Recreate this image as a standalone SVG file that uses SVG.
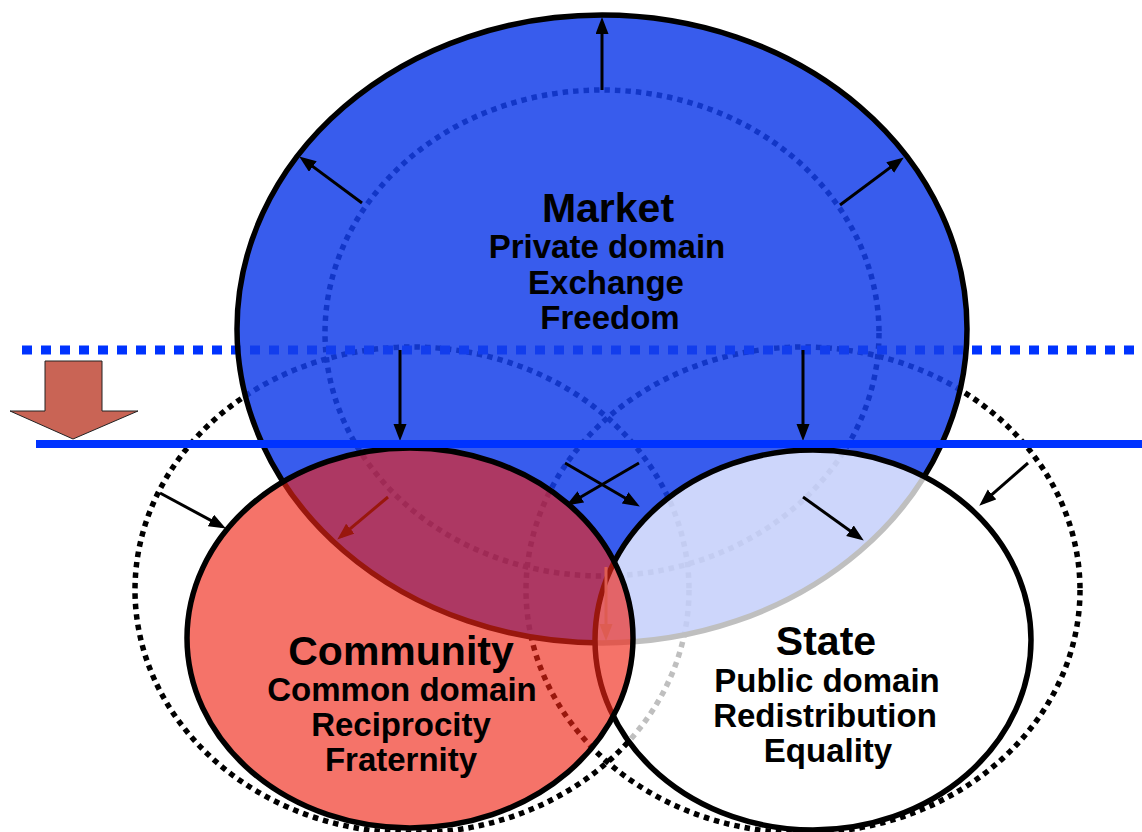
<svg xmlns="http://www.w3.org/2000/svg" width="1142" height="832" viewBox="0 0 1142 832">
<style>
.old{fill:none;stroke:#000;stroke-width:5.5;stroke-dasharray:5.5 5}
.solid{stroke:#000;stroke-width:5.5}
.t{font-family:"Liberation Sans",Arial,sans-serif;font-weight:bold;text-anchor:middle;fill:#000}
.title{font-size:41px}
.sub{font-size:33px}
.arr{stroke:#000;stroke-width:3;fill:none;marker-end:url(#ah)}
.arr-g{stroke:#bfbfbf;stroke-width:3;fill:none;marker-end:url(#ahg)}
</style>
<defs>
<marker id="ah" markerUnits="userSpaceOnUse" markerWidth="18" markerHeight="14" refX="12" refY="6.5" orient="auto">
<path d="M0,0 L17,6.5 L0,13 z" fill="#000"/>
</marker>
<marker id="ahg" markerUnits="userSpaceOnUse" markerWidth="18" markerHeight="14" refX="12" refY="6.5" orient="auto">
<path d="M0,0 L17,6.5 L0,13 z" fill="#bfbfbf"/>
</marker>
</defs>
<rect width="1142" height="832" fill="#fff"/>
<g id="previous-boundaries">
<ellipse class="old" cx="602" cy="333" rx="277" ry="243"/>
<ellipse class="old" cx="412" cy="590" rx="277" ry="243"/>
<ellipse class="old" cx="803" cy="590" rx="277" ry="243"/>
</g>
<g id="previous-line">
<line x1="22" y1="350" x2="1142" y2="350" stroke="#0033ff" stroke-width="9" stroke-dasharray="10 9"/>
</g>
<g id="market">
<ellipse class="solid" cx="602" cy="329" rx="365" ry="314" fill="rgb(21,63,234)" fill-opacity="0.85"/>
<text class="t title" x="608" y="222">Market</text>
<text class="t sub" x="607" y="258">Private domain</text>
<text class="t sub" x="606" y="294">Exchange</text>
<text class="t sub" x="610" y="329">Freedom</text>
</g>
<g id="state">
<ellipse class="solid" cx="813" cy="640" rx="218" ry="190" fill="#fff" fill-opacity="0.75"/>
<text class="t title" x="826" y="655">State</text>
<text class="t sub" x="827" y="692">Public domain</text>
<text class="t sub" x="825" y="727">Redistribution</text>
<text class="t sub" x="828" y="762">Equality</text>
</g>
<g id="connectors">
<line class="arr" x1="602" y1="90" x2="602" y2="22"/>
<line class="arr" x1="362" y1="203" x2="303.2" y2="159.4"/>
<line class="arr" x1="840" y1="205" x2="899.8" y2="160.4"/>
<line class="arr" x1="400" y1="350" x2="400" y2="436"/>
<line class="arr" x1="803" y1="350" x2="803" y2="436"/>
<line class="arr" x1="565" y1="463" x2="635.5" y2="504"/>
<line class="arr" x1="639" y1="463" x2="570.5" y2="503"/>
<line class="arr" x1="803" y1="497" x2="859.7" y2="537.7"/>
<line class="arr" x1="1028" y1="463" x2="983" y2="502.4"/>
<line class="arr" x1="160" y1="493" x2="221.5" y2="526.1"/>
<line class="arr" x1="388" y1="497" x2="341.1" y2="536.4"/>
<line class="arr-g" x1="606" y1="567" x2="606" y2="636"/>
</g>
<g id="community">
<ellipse class="solid" cx="410" cy="638" rx="223" ry="190" fill="rgb(240,36,20)" fill-opacity="0.64"/>
<text class="t title" x="401" y="665">Community</text>
<text class="t sub" x="402" y="701">Common domain</text>
<text class="t sub" x="401" y="736">Reciprocity</text>
<text class="t sub" x="401" y="771">Fraternity</text>
</g>
<g id="new-line">
<line x1="36" y1="444" x2="1142" y2="444" stroke="#0033ff" stroke-width="8"/>
</g>
<g id="shift-arrow">
<polygon points="45,361 102,361 102,411 138,411 73,439 10,411 45,411" fill="#c96455" stroke="#222" stroke-width="1"/>
</g>
</svg>
